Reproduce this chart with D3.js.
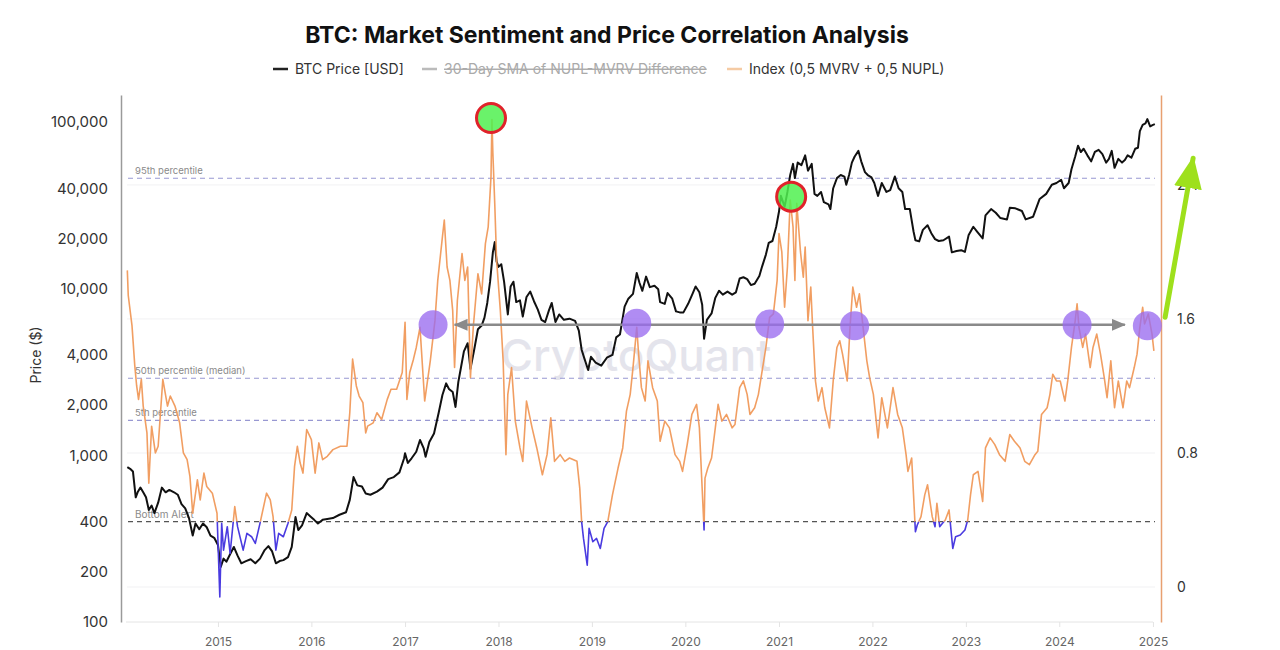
<!DOCTYPE html>
<html><head><meta charset="utf-8">
<script src="https://cdn.jsdelivr.net/npm/d3@7"></script>
<style>
body{margin:0;background:#fff;}
svg text{font-family:Inter,"Noto Sans",sans-serif;}
</style>
</head><body>
<svg id="chart" width="1280" height="650"></svg>
<script>
// ---- DATA (time as decimal year) ----
const btcPrice = [[2014.03,850],[2014.06,830],[2014.09,800],[2014.12,560],[2014.14,600],[2014.17,640],[2014.20,600],[2014.23,560],[2014.26,470],[2014.29,500],[2014.32,450],[2014.36,520],[2014.40,640],[2014.44,600],[2014.48,620],[2014.53,600],[2014.57,580],[2014.61,510],[2014.65,480],[2014.69,420],[2014.73,330],[2014.76,390],[2014.80,360],[2014.84,390],[2014.88,370],[2014.92,330],[2014.96,320],[2015.00,290],[2015.03,214],[2015.06,240],[2015.09,230],[2015.13,255],[2015.17,282],[2015.21,250],[2015.25,225],[2015.30,232],[2015.35,238],[2015.40,225],[2015.45,240],[2015.50,270],[2015.54,285],[2015.58,265],[2015.62,225],[2015.66,232],[2015.70,235],[2015.75,245],[2015.79,282],[2015.83,426],[2015.86,356],[2015.90,380],[2015.95,450],[2015.99,430],[2016.03,410],[2016.07,390],[2016.12,410],[2016.17,415],[2016.23,420],[2016.30,440],[2016.37,455],[2016.41,540],[2016.45,740],[2016.49,660],[2016.54,650],[2016.58,590],[2016.63,580],[2016.70,605],[2016.76,640],[2016.82,720],[2016.88,740],[2016.94,790],[2016.99,960],[2017.00,1030],[2017.03,900],[2017.07,960],[2017.12,1050],[2017.16,1235],[2017.20,1100],[2017.22,980],[2017.26,1200],[2017.31,1350],[2017.36,1800],[2017.40,2300],[2017.44,2700],[2017.47,2500],[2017.51,2400],[2017.54,1950],[2017.57,2750],[2017.60,3400],[2017.63,4200],[2017.67,4700],[2017.70,3300],[2017.74,4300],[2017.78,5700],[2017.82,6000],[2017.85,6700],[2017.88,8200],[2017.91,11000],[2017.94,16500],[2017.96,19000],[2017.98,14500],[2018.00,13500],[2018.03,14000],[2018.06,11000],[2018.10,7000],[2018.13,10300],[2018.16,11000],[2018.19,8300],[2018.23,8500],[2018.26,6800],[2018.30,8900],[2018.34,9600],[2018.38,8400],[2018.42,7500],[2018.46,6500],[2018.50,6300],[2018.54,7400],[2018.57,8200],[2018.61,6300],[2018.65,7000],[2018.70,6500],[2018.76,6600],[2018.82,6400],[2018.86,5600],[2018.89,4300],[2018.92,3800],[2018.96,3250],[2018.99,3900],[2019.04,3600],[2019.10,3450],[2019.16,3850],[2019.22,4000],[2019.26,5100],[2019.30,5300],[2019.35,7800],[2019.39,8700],[2019.44,9300],[2019.48,12400],[2019.51,10800],[2019.54,9700],[2019.58,11800],[2019.62,10200],[2019.67,10400],[2019.71,9900],[2019.73,8300],[2019.78,8100],[2019.81,9400],[2019.86,8700],[2019.90,7300],[2019.94,7200],[2019.98,7200],[2020.03,8100],[2020.08,9400],[2020.11,10300],[2020.15,9500],[2020.18,8000],[2020.20,5000],[2020.23,6500],[2020.28,7100],[2020.32,8800],[2020.36,9700],[2020.40,9200],[2020.45,9600],[2020.50,9200],[2020.54,9500],[2020.58,11500],[2020.62,11700],[2020.66,11400],[2020.70,10500],[2020.74,10700],[2020.79,11900],[2020.82,13600],[2020.86,16000],[2020.89,18800],[2020.93,19300],[2020.97,23500],[2021.00,29000],[2021.02,36000],[2021.06,31000],[2021.09,38000],[2021.12,48000],[2021.15,56000],[2021.17,46000],[2021.20,57000],[2021.24,55000],[2021.28,63000],[2021.31,51000],[2021.35,56000],[2021.38,37000],[2021.41,36000],[2021.45,38000],[2021.48,33000],[2021.53,32000],[2021.55,30000],[2021.58,40000],[2021.62,46000],[2021.66,48000],[2021.70,47000],[2021.72,42000],[2021.75,48000],[2021.78,57000],[2021.81,62000],[2021.85,67000],[2021.88,58000],[2021.92,50000],[2021.95,48000],[2021.99,46500],[2022.02,43000],[2022.06,36000],[2022.10,43000],[2022.15,38000],[2022.19,39000],[2022.24,47000],[2022.28,40000],[2022.32,38000],[2022.35,30000],[2022.40,30000],[2022.44,22000],[2022.46,19500],[2022.50,19200],[2022.54,22500],[2022.59,24000],[2022.63,21500],[2022.67,19800],[2022.71,19300],[2022.76,19500],[2022.82,20500],[2022.85,16500],[2022.90,16800],[2022.95,17000],[2022.99,16600],[2023.03,21000],[2023.08,23500],[2023.12,22000],[2023.18,20000],[2023.21,27500],[2023.27,30000],[2023.32,28500],[2023.37,26500],[2023.44,26000],[2023.47,30500],[2023.53,30300],[2023.60,29200],[2023.64,26000],[2023.72,27000],[2023.79,34500],[2023.86,37000],[2023.92,42000],[2023.97,43000],[2024.02,45000],[2024.05,40000],[2024.10,43000],[2024.13,52000],[2024.17,62000],[2024.20,72000],[2024.23,66000],[2024.26,69000],[2024.30,63000],[2024.34,58000],[2024.38,66000],[2024.42,68000],[2024.46,64000],[2024.50,57000],[2024.53,60000],[2024.56,67000],[2024.59,53000],[2024.63,60000],[2024.67,57000],[2024.70,59000],[2024.73,63000],[2024.77,61000],[2024.81,69000],[2024.84,70000],[2024.86,88000],[2024.89,96000],[2024.92,98000],[2024.94,104000],[2024.97,94000],[2025.00,96000],[2025.02,97000]];

const sentimentIndex = [[2014.03,1.89],[2014.04,1.74],[2014.08,1.56],[2014.11,1.32],[2014.13,1.20],[2014.15,1.12],[2014.18,1.24],[2014.20,1.08],[2014.24,0.92],[2014.26,0.62],[2014.29,0.96],[2014.33,0.80],[2014.36,0.84],[2014.41,1.24],[2014.46,1.08],[2014.49,1.14],[2014.54,1.08],[2014.59,0.98],[2014.63,0.80],[2014.67,0.76],[2014.70,0.66],[2014.73,0.44],[2014.78,0.64],[2014.81,0.52],[2014.85,0.68],[2014.88,0.60],[2014.94,0.56],[2014.99,0.44],[2015.02,-0.06],[2015.04,0.38],[2015.06,0.22],[2015.10,0.36],[2015.13,0.20],[2015.18,0.48],[2015.21,0.36],[2015.27,0.22],[2015.31,0.32],[2015.36,0.30],[2015.40,0.26],[2015.45,0.38],[2015.52,0.56],[2015.56,0.52],[2015.59,0.42],[2015.62,0.22],[2015.65,0.32],[2015.70,0.30],[2015.75,0.38],[2015.79,0.46],[2015.82,0.72],[2015.85,0.84],[2015.88,0.74],[2015.91,0.68],[2015.95,0.94],[2016.00,0.88],[2016.04,0.68],[2016.08,0.86],[2016.12,0.76],[2016.17,0.78],[2016.23,0.82],[2016.31,0.84],[2016.38,0.84],[2016.41,1.04],[2016.44,1.36],[2016.48,1.20],[2016.51,1.14],[2016.55,1.10],[2016.58,0.92],[2016.60,0.96],[2016.66,0.98],[2016.70,1.04],[2016.75,1.00],[2016.81,1.12],[2016.85,1.18],[2016.91,1.18],[2016.97,1.28],[2017.00,1.58],[2017.02,1.12],[2017.05,1.28],[2017.09,1.36],[2017.12,1.43],[2017.16,1.55],[2017.21,1.11],[2017.27,1.35],[2017.32,1.59],[2017.35,1.83],[2017.40,2.09],[2017.42,2.19],[2017.45,1.91],[2017.48,1.83],[2017.51,1.65],[2017.53,1.31],[2017.56,1.71],[2017.61,1.99],[2017.64,1.83],[2017.67,1.91],[2017.70,1.25],[2017.73,1.55],[2017.78,1.87],[2017.82,1.75],[2017.86,2.05],[2017.89,2.15],[2017.92,2.45],[2017.93,2.79],[2017.94,2.59],[2017.96,2.29],[2017.98,1.95],[2018.02,1.65],[2018.05,1.35],[2018.08,0.79],[2018.10,1.15],[2018.14,1.31],[2018.18,0.99],[2018.23,0.83],[2018.26,0.75],[2018.30,1.11],[2018.36,0.95],[2018.41,0.83],[2018.47,0.67],[2018.52,0.79],[2018.56,1.01],[2018.60,0.75],[2018.66,0.79],[2018.71,0.75],[2018.76,0.77],[2018.84,0.75],[2018.87,0.59],[2018.89,0.39],[2018.91,0.29],[2018.95,0.13],[2018.97,0.35],[2019.01,0.27],[2019.05,0.29],[2019.09,0.23],[2019.13,0.35],[2019.17,0.39],[2019.22,0.55],[2019.28,0.71],[2019.33,0.83],[2019.37,1.05],[2019.41,1.15],[2019.44,1.31],[2019.48,1.55],[2019.50,1.39],[2019.53,1.19],[2019.57,1.11],[2019.60,1.35],[2019.65,1.19],[2019.70,1.11],[2019.73,0.87],[2019.78,0.99],[2019.83,0.95],[2019.89,0.79],[2019.94,0.75],[2019.97,0.69],[2020.02,0.85],[2020.07,1.03],[2020.12,1.09],[2020.15,0.95],[2020.20,0.34],[2020.21,0.65],[2020.24,0.71],[2020.28,0.77],[2020.32,0.95],[2020.35,1.09],[2020.39,0.99],[2020.44,1.03],[2020.50,0.95],[2020.53,0.97],[2020.58,1.19],[2020.62,1.23],[2020.66,1.15],[2020.69,1.03],[2020.74,1.07],[2020.78,1.15],[2020.82,1.29],[2020.86,1.43],[2020.90,1.61],[2020.94,1.63],[2020.98,1.83],[2021.00,2.11],[2021.03,2.00],[2021.06,1.67],[2021.09,1.91],[2021.12,2.31],[2021.15,2.15],[2021.17,1.83],[2021.19,2.29],[2021.23,2.00],[2021.26,1.85],[2021.28,2.03],[2021.31,1.59],[2021.34,1.79],[2021.36,1.55],[2021.39,1.23],[2021.42,1.11],[2021.46,1.19],[2021.49,1.07],[2021.54,0.95],[2021.58,1.23],[2021.62,1.43],[2021.65,1.47],[2021.68,1.39],[2021.73,1.23],[2021.76,1.55],[2021.79,1.79],[2021.83,1.67],[2021.86,1.75],[2021.90,1.55],[2021.94,1.35],[2021.97,1.25],[2022.01,1.15],[2022.06,0.89],[2022.10,1.13],[2022.16,0.95],[2022.22,1.19],[2022.27,1.03],[2022.32,0.95],[2022.36,0.79],[2022.38,0.69],[2022.42,0.77],[2022.46,0.33],[2022.48,0.37],[2022.52,0.42],[2022.56,0.55],[2022.59,0.61],[2022.64,0.42],[2022.67,0.36],[2022.69,0.50],[2022.72,0.36],[2022.75,0.38],[2022.78,0.40],[2022.82,0.46],[2022.86,0.23],[2022.89,0.30],[2022.94,0.31],[2022.99,0.34],[2023.02,0.40],[2023.05,0.55],[2023.08,0.67],[2023.13,0.69],[2023.18,0.51],[2023.21,0.83],[2023.26,0.89],[2023.31,0.85],[2023.36,0.79],[2023.42,0.75],[2023.47,0.91],[2023.52,0.87],[2023.58,0.83],[2023.63,0.75],[2023.68,0.73],[2023.74,0.79],[2023.77,0.81],[2023.81,1.03],[2023.87,1.07],[2023.90,1.15],[2023.93,1.27],[2023.97,1.23],[2024.01,1.23],[2024.06,1.11],[2024.09,1.23],[2024.13,1.43],[2024.17,1.59],[2024.19,1.69],[2024.21,1.55],[2024.25,1.43],[2024.28,1.51],[2024.33,1.31],[2024.36,1.43],[2024.40,1.51],[2024.44,1.39],[2024.48,1.25],[2024.51,1.13],[2024.55,1.35],[2024.59,1.07],[2024.63,1.23],[2024.68,1.07],[2024.72,1.23],[2024.75,1.19],[2024.80,1.31],[2024.83,1.39],[2024.86,1.55],[2024.89,1.67],[2024.91,1.57],[2024.95,1.63],[2024.99,1.51],[2025.01,1.41]];

const percentileLines = [
  {label:"95th percentile", value:2.44},
  {label:"50th percentile (median)", value:1.246},
  {label:"5th percentile", value:0.995}
];
const bottomAlert = {label:"Bottom Alert", value:0.39};
const yearTicks = [2015,2016,2017,2018,2019,2020,2021,2022,2023,2024,2025];
const priceTicks = [100,200,400,1000,2000,4000,10000,20000,40000,100000];
const indexTicks = [0,0.8,1.6,2.4];
const peakMarkers = [[2017.92,2.80],[2021.13,2.33]];
const levelMarkers = [[2017.30,1.565],[2019.48,1.575],[2020.90,1.57],[2021.81,1.56],[2024.19,1.565],[2024.94,1.56]];
const rangeArrow = [[2017.53,1.565],[2024.70,1.565]];
const trendArrow = [[2025.13,1.61],[2025.43,2.56]];
const legendItems = [
  {label:"BTC Price [USD]", color:"#222", hidden:false},
  {label:"30-Day SMA of NUPL-MVRV Difference", color:"#bbb", hidden:true},
  {label:"Index (0,5 MVRV + 0,5 NUPL)", color:"#f5cba4", hidden:false}
];

// ---- helpers ----
function toDate(y){
  const yr = Math.floor(y);
  const s = Date.UTC(yr,0,1), e = Date.UTC(yr+1,0,1);
  return new Date(s + (y-yr)*(e-s));
}

const svg = d3.select("#chart");
const L = 122, R = 1161, T = 95, B = 622;

const x = d3.scaleUtc().domain([toDate(2013.973), toDate(2025.086)]).range([L, R]);
const yP = d3.scaleLog().domain([100, 145000]).range([B, T]);
const yI = d3.scaleLinear().domain([-0.209, 2.937]).range([B, T]);

// title
svg.append("text").attr("x", 607).attr("y", 43).attr("text-anchor","middle")
  .attr("font-size", 23).attr("font-weight", 700).attr("fill","#111")
  .text("BTC: Market Sentiment and Price Correlation Analysis");

// legend
const legX = [273, 422, 727];
legendItems.forEach((d,i)=>{
  const g = svg.append("g").attr("transform", `translate(${legX[i]},69)`);
  g.append("line").attr("x1",0).attr("x2",15).attr("y1",0).attr("y2",0)
    .attr("stroke", d.color).attr("stroke-width", 2.5);
  g.append("text").attr("x", 22).attr("y", 0).attr("dy","0.35em")
    .attr("font-size", 14).attr("fill", d.hidden ? "#aaa" : "#333")
    .attr("text-decoration", d.hidden ? "line-through" : null)
    .text(d.label);
});

// faint gridlines
svg.append("g").selectAll("line").data(indexTicks).join("line")
  .attr("x1", L+5).attr("x2", R-6).attr("y1", d=>yI(d)).attr("y2", d=>yI(d))
  .attr("stroke","#f1f1f3").attr("stroke-width",1);

// watermark
svg.append("text").attr("x", 636).attr("y", 371).attr("text-anchor","middle")
  .attr("font-size", 44).attr("font-weight", 500).attr("fill","#dcdce6").attr("opacity",0.75)
  .text("CryptoQuant");

// left axis
const axL = svg.append("g").attr("transform", `translate(${L-1},0)`)
  .call(d3.axisLeft(yP).tickValues(priceTicks).tickSize(0).tickPadding(13).tickFormat(d3.format(",")));
axL.select(".domain").attr("stroke","#9a9a9a").attr("stroke-width",1.5);
axL.selectAll("text").attr("font-size",15).attr("fill","#333").style("font-family","Inter");

// right axis
const axR = svg.append("g").attr("transform", `translate(${R},0)`)
  .call(d3.axisRight(yI).tickValues(indexTicks).tickSize(0).tickPadding(16).tickFormat(d=>d===0?"0":d3.format(".1f")(d)));
axR.select(".domain").attr("stroke","#e8a070").attr("stroke-width",1.5);
axR.selectAll("text").attr("font-size",14).attr("fill","#333").style("font-family","Inter");

// bottom axis
const axB = svg.append("g").attr("transform", `translate(0,${B})`)
  .call(d3.axisBottom(x).tickValues(yearTicks.map(toDate)).tickSize(5).tickPadding(10).tickFormat(d3.utcFormat("%Y")));
axB.select(".domain").attr("stroke","#e4e4e4").attr("d", `M${L+4},0H${R-8}`);
axB.selectAll(".tick line").attr("stroke","#e4e4e4");
axB.selectAll("text").attr("font-size",12).attr("fill","#666").style("font-family","Inter");

// y label
svg.append("text").attr("transform","translate(41,355) rotate(-90)").attr("text-anchor","middle")
  .attr("font-size",14).attr("fill","#333").text("Price ($)");

// percentile dashed lines
const pl = svg.append("g");
percentileLines.forEach(d=>{
  pl.append("line").attr("x1", L+6).attr("x2", R-6).attr("y1", yI(d.value)).attr("y2", yI(d.value))
    .attr("stroke","#9898d2").attr("stroke-width",1.2).attr("stroke-dasharray","5,4");
  pl.append("text").attr("x", L+13).attr("y", yI(d.value)-4).attr("font-size",9.5).attr("fill","#8a8a8a").text(d.label);
});
pl.append("line").attr("x1", L+6).attr("x2", R-6).attr("y1", yI(bottomAlert.value)).attr("y2", yI(bottomAlert.value))
  .attr("stroke","#555").attr("stroke-width",1.2).attr("stroke-dasharray","5,4");
pl.append("text").attr("x", L+13).attr("y", yI(bottomAlert.value)-4).attr("font-size",10).attr("fill","#8a8a8a").text(bottomAlert.label);

// clip paths
const defs = svg.append("defs");
defs.append("clipPath").attr("id","above").append("rect")
  .attr("x", L).attr("y", 0).attr("width", R-L).attr("height", yI(bottomAlert.value));
defs.append("clipPath").attr("id","below").append("rect")
  .attr("x", L).attr("y", yI(bottomAlert.value)).attr("width", R-L).attr("height", 650);

// BTC price line
const priceLine = d3.line().x(d=>x(toDate(d[0]))).y(d=>yP(d[1]));
svg.append("path").datum(btcPrice).attr("d", priceLine)
  .attr("fill","none").attr("stroke","#111").attr("stroke-width",2).attr("stroke-linejoin","round");

// index line
const idxLine = d3.line().x(d=>x(toDate(d[0]))).y(d=>yI(d[1]));
svg.append("path").datum(sentimentIndex).attr("d", idxLine).attr("clip-path","url(#above)")
  .attr("fill","none").attr("stroke","#f0995a").attr("stroke-width",1.6).attr("stroke-linejoin","round").attr("opacity",0.95);
svg.append("path").datum(sentimentIndex).attr("d", idxLine).attr("clip-path","url(#below)")
  .attr("fill","none").attr("stroke","#4a3be0").attr("stroke-width",1.6).attr("stroke-linejoin","round");

// arrow markers
defs.append("marker").attr("id","grayHead").attr("markerUnits","userSpaceOnUse")
  .attr("viewBox","0 0 14 12").attr("markerWidth",14).attr("markerHeight",12)
  .attr("refX",13).attr("refY",6).attr("orient","auto-start-reverse")
  .append("path").attr("d","M0,0L14,6L0,12Z").attr("fill","#8a8a8a");
defs.append("marker").attr("id","limeHead").attr("markerUnits","userSpaceOnUse")
  .attr("viewBox","0 0 32 28").attr("markerWidth",32).attr("markerHeight",28)
  .attr("refX",30).attr("refY",14).attr("orient","auto")
  .append("path").attr("d","M0,0L32,14L0,28Z").attr("fill","#9ee01c");

// range arrow
svg.append("line")
  .attr("x1", x(toDate(rangeArrow[0][0]))).attr("y1", yI(rangeArrow[0][1]))
  .attr("x2", x(toDate(rangeArrow[1][0]))).attr("y2", yI(rangeArrow[1][1]))
  .attr("stroke","#8a8a8a").attr("stroke-width",2.5)
  .attr("marker-start","url(#grayHead)").attr("marker-end","url(#grayHead)");

// level markers (purple)
svg.append("g").selectAll("circle").data(levelMarkers).join("circle")
  .attr("cx", d=>x(toDate(d[0]))).attr("cy", d=>yI(d[1])).attr("r", 14.5)
  .attr("fill","#9a6cf0").attr("opacity",0.78);

// peak markers (green / red)
svg.append("g").selectAll("circle").data(peakMarkers).join("circle")
  .attr("cx", d=>x(toDate(d[0]))).attr("cy", d=>yI(d[1])).attr("r", 14.5)
  .attr("fill","rgba(80,240,80,0.85)").attr("stroke","#e0222a").attr("stroke-width",3);

// trend arrow (lime)
svg.append("line")
  .attr("x1", x(toDate(trendArrow[0][0]))).attr("y1", yI(trendArrow[0][1]))
  .attr("x2", x(toDate(trendArrow[1][0]))).attr("y2", yI(trendArrow[1][1]))
  .attr("stroke","#9ee01c").attr("stroke-width",5).attr("stroke-linecap","round")
  .attr("marker-end","url(#limeHead)");
</script>
</body></html>
